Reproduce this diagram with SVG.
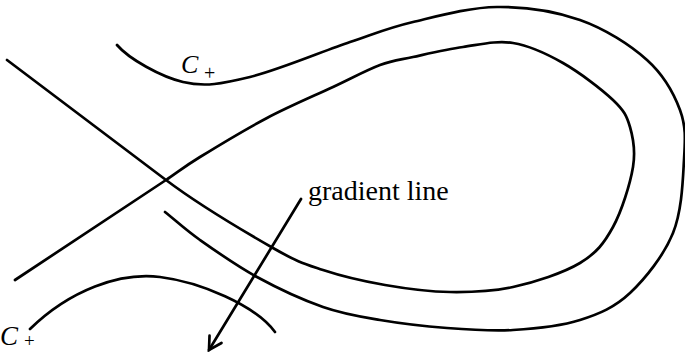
<svg xmlns="http://www.w3.org/2000/svg" width="685" height="352" viewBox="0 0 685 352">
<style>
.c{fill:none;stroke:#000;stroke-width:2.7;stroke-linecap:round;stroke-linejoin:round}
.t{font-family:"Liberation Serif","Times New Roman",serif;fill:#000}
.i{font-style:italic}
</style>
<defs>
<marker id="ah" markerUnits="userSpaceOnUse" markerWidth="30" markerHeight="30" refX="0" refY="0" orient="auto" overflow="visible">
<path d="M-12.5,-7 L0,0 L-12.5,7" fill="none" stroke="#000" stroke-width="2.7" stroke-linecap="round" stroke-linejoin="miter"/>
</marker>
</defs>
<rect width="685" height="352" fill="#fff"/>
<g id="outer-curve">
<path class="c" d="M117,45 C129,59 160.8,76.7 183,82 C205.2,87.3 222.2,83.7 250,77 C277.8,70.3 322.8,51.2 350,42 C377.2,32.8 388.5,27.8 413,22 C437.5,16.2 469.2,7.3 497,7 C524.8,6.7 555,11.2 580,20 C605,28.8 630.3,45 647,60 C663.7,75 673.8,93.3 680,110 C686.2,126.7 685.2,139.5 684,160 C682.8,180.5 682,210.8 673,233 C664,255.2 645.5,278.5 630,293 C614.5,307.5 599.5,313.8 580,320 C560.5,326.2 535.2,328.7 513,330 C490.8,331.3 469.2,329.7 447,328 C424.8,326.3 400.7,323.5 380,320 C359.3,316.5 343.5,314.2 323,307 C302.5,299.8 277.5,288.2 257,277 C236.5,265.8 215.3,250.8 200,240 C184.7,229.2 176.7,221.3 165,212"/>
</g>
<g id="inner-curve">
<path class="c" d="M7,60 L166,180 C199.5,205.3 246.8,233 273,248 C299.2,263 304.3,263.8 323,270 C341.7,276.2 363.8,281.3 385,285 C406.2,288.7 428.7,291.7 450,292 C471.3,292.3 491.3,291.8 513,287 C534.7,282.2 563.3,273 580,263 C596.7,253 604.2,243 613,227 C621.8,211 630.2,183.7 633,167 C635.8,150.3 633.3,138.2 630,127 C626.7,115.8 624.2,110.7 613,100 C601.8,89.3 579.7,72.5 563,63 C546.3,53.5 529.7,45.7 513,43 C496.3,40.3 479.7,44.7 463,47 C446.3,49.3 426.8,54 413,57 C399.2,60 393.3,60 380,65 C366.7,70 351.8,78.2 333,87 C314.2,95.8 289.2,106.3 267,118 C244.8,129.7 216.8,146.7 200,157 C183.2,167.3 177.4,172.4 166,180 L15,280"/>
</g>
<g id="lower-curve">
<path class="c" d="M30,329 C70,290 120,272 160,277 C200,282 255,305 275,332"/>
</g>
<g id="gradient-arrow">
<path class="c" d="M301,199 L209,350" marker-end="url(#ah)"/>
</g>
<g id="labels">
<text class="t i" x="181" y="73" font-size="26">C</text>
<text class="t" x="204" y="80" font-size="20">+</text>
<text class="t i" x="0" y="345" font-size="27">C</text>
<text class="t" x="24" y="347" font-size="19">+</text>
<text class="t" x="308" y="200" font-size="28">gradient line</text>
</g>
</svg>
